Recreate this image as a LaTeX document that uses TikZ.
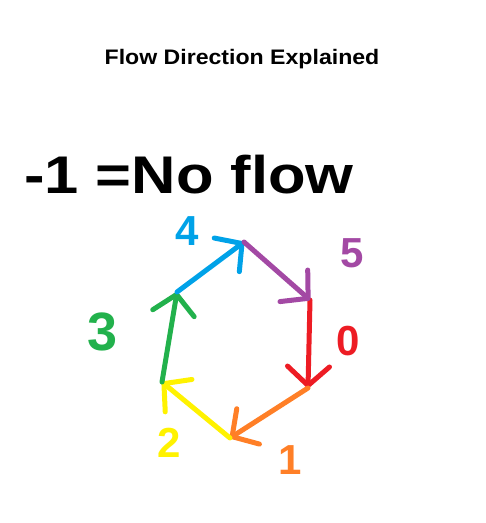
\documentclass[tikz,border=0pt]{standalone}
\usepackage{fontspec}
\setmainfont{Liberation Sans}
\usetikzlibrary{arrows.meta,positioning}
\definecolor{paintblue}{RGB}{0,162,232}
\definecolor{paintpurple}{RGB}{163,73,164}
\definecolor{paintred}{RGB}{237,28,36}
\definecolor{paintorange}{RGB}{255,127,39}
\definecolor{paintyellow}{RGB}{255,242,0}
\definecolor{paintgreen}{RGB}{34,177,76}

\tikzset{
  flow/.style={line width=5pt, line cap=round, line join=round,
    -{Straight Barb[length=19pt,width=42pt,line cap=round,line join=round]}},
  digit/.style={font=\bfseries\fontsize{42}{42}\selectfont, inner sep=0pt},
}

\begin{document}
\begin{tikzpicture}[x=1pt,y=-1pt]
    \useasboundingbox (0,0) rectangle (486,523);

    % Title
    \node[font=\bfseries\fontsize{21}{21}\selectfont] (title) at (242,59)
        {\scalebox{1.1}[1]{Flow Direction Explained}};

    % Legend
    \node[font=\bfseries\fontsize{53}{53}\selectfont, inner sep=0pt, anchor=base west] (noflow) at (24,193)
        {\scalebox{1.16}[1]{-1 =No flow}};

    % Hexagon corners
    \coordinate (top) at (244,242);
    \coordinate (upr) at (310,300);
    \coordinate (lor) at (308,388);
    \coordinate (bot) at (230,438);
    \coordinate (lol) at (162,382);
    \coordinate (upl) at (177,292);

    % Direction arrows
    \draw[flow, paintred]    (upr) -- (lor);
    \draw[flow, paintorange] (lor) -- (bot);
    \draw[flow, paintyellow] (bot) -- (lol);
    \draw[flow, paintgreen]  (lol) -- (upl);
    \draw[flow, paintblue]   (upl) -- (top);
    \draw[flow, paintpurple] (top) -- (upr);

    % Direction codes
    \node[digit, text=paintred]    (d0) at (348,341) {0};
    \node[digit, text=paintorange] (d1) at (290,460) {1};
    \node[digit, text=paintyellow] (d2) at (169,443) {2};
    \node[digit, text=paintgreen, font=\bfseries\fontsize{54}{54}\selectfont] (d3) at (103,332) {3};
    \node[digit, text=paintblue]   (d4) at (187,231) {4};
    \node[digit, text=paintpurple] (d5) at (352,253) {5};
\end{tikzpicture}
\end{document}
